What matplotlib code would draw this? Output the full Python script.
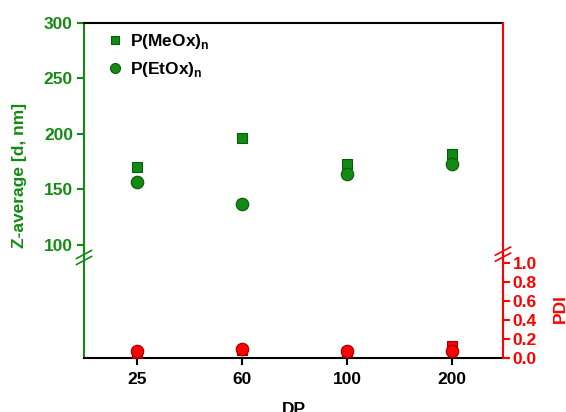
import matplotlib.pyplot as plt
import numpy as np

plt.rcParams['font.family'] = ['Liberation Sans', 'DejaVu Sans']
plt.rcParams['font.weight'] = 'bold'
plt.rcParams['mathtext.fontset'] = 'custom'
plt.rcParams['mathtext.rm'] = 'Liberation Sans:bold'

dp_labels = ['25', '60', '100', '200']
z_meox = [170, 196, 173, 182]
z_etox = [157, 137, 164, 173]
pdi_meox = [0.05, 0.08, 0.06, 0.13]
pdi_etox = [0.07, 0.09, 0.07, 0.07]

green = '#138a13'
green_edge = '#0a5a0a'
red = '#ff0000'
red_edge = '#9a0000'

x = np.arange(len(dp_labels))

fig = plt.figure(figsize=(5.66, 4.12), dpi=100)
ax = fig.add_axes([0.1484, 0.1311, 0.7403, 0.8131])
ax2 = ax.twinx()

# Z-average (left)
ax.plot(x, z_meox, 's', ms=7, mfc=green, mec=green_edge, mew=0.8, ls='none',
        label=r'P(MeOx)$_\mathregular{n}$')
ax.plot(x, z_etox, 'o', ms=9, mfc=green, mec=green_edge, mew=0.8, ls='none',
        label=r'P(EtOx)$_\mathregular{n}$')
ax.set_xlim(-0.505, 3.486)
ax.set_ylim(-1.8, 300)
ax.set_yticks([100, 150, 200, 250, 300])
ax.set_xticks(x)
ax.set_xticklabels(dp_labels)
ax.tick_params(axis='x', direction='out', length=5, width=1.5, labelsize=12.5, pad=5)
ax.tick_params(axis='y', direction='out', length=5, width=1.5, labelsize=12.5,
               colors=green, pad=3)
ax.set_ylabel('Z-average [d, nm]', color=green, fontsize=12.5, fontweight='bold')
ax.yaxis.set_label_coords(-0.136, 0.545)
ax.set_xlabel('DP', fontsize=12.5, fontweight='bold')
ax.xaxis.set_label_coords(0.5, -0.13)
ax.spines['left'].set_color(green)
ax.spines['left'].set_linewidth(1.5)
ax.spines['top'].set_linewidth(1.5)
ax.spines['bottom'].set_linewidth(1.5)
ax.spines['right'].set_visible(False)

# PDI (right)
ax2.plot(x, pdi_meox, 's', ms=7, mfc=red, mec=red_edge, mew=0.8, ls='none',
         clip_on=False)
ax2.plot(x, pdi_etox, 'o', ms=9, mfc=red, mec=red_edge, mew=0.8, ls='none',
         clip_on=False)
ax2.set_ylim(0, 3.53)
ax2.set_yticks([0.0, 0.2, 0.4, 0.6, 0.8, 1.0])
ax2.set_yticklabels(['0.0', '0.2', '0.4', '0.6', '0.8', '1.0'])
ax2.tick_params(axis='y', direction='out', length=5, width=1.5, labelsize=12.5,
                colors=red, pad=2)
ax2.set_ylabel('PDI', color=red, fontsize=12.5, fontweight='bold')
ax2.yaxis.set_label_coords(1.118, 0.149)
for s in ['left', 'top', 'bottom']:
    ax2.spines[s].set_visible(False)
ax2.spines['right'].set_color(red)
ax2.spines['right'].set_linewidth(1.5)

# axis break marks
for xa, ya, c in [(0.0, 0.30, green), (1.0, 0.31, red)]:
    for dy in (-0.009, 0.009):
        ax.plot([xa - 0.018, xa + 0.018], [ya + dy - 0.012, ya + dy + 0.012],
                transform=ax.transAxes, color=c, lw=1.2, clip_on=False)

leg = ax.legend(loc='upper left', bbox_to_anchor=(0.02, 1.02), frameon=False,
                fontsize=12.5, handletextpad=0.45, labelspacing=0.5,
                handlelength=0.8, markerscale=0.8)

fig.savefig('out.png', dpi=100)
